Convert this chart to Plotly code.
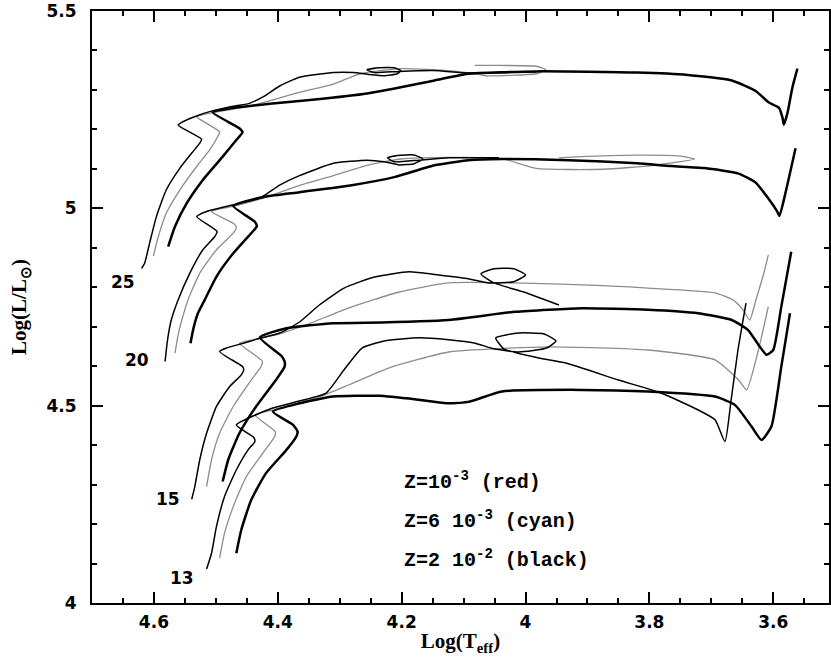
import plotly.graph_objects as go

# ---------------- data (log Teff, log L/Lsun) ----------------
T25_red = [4.620,4.615,4.607,4.596,4.580,4.558,4.539,4.526,4.523,4.561,4.547,4.531,4.510,4.478,4.446,4.421,4.397,4.365,4.310,4.278,4.252,4.228,4.207,4.201,4.212,4.236,4.256,4.244,4.204,4.148,4.093,3.983]
L25_red = [4.848,4.861,4.912,4.979,5.047,5.102,5.140,5.165,5.175,5.211,5.224,5.234,5.245,5.257,5.266,5.285,5.310,5.332,5.344,5.344,5.339,5.336,5.341,5.349,5.356,5.356,5.351,5.344,5.347,5.349,5.343,5.346]
T25_cyan = [4.601,4.593,4.580,4.558,4.531,4.510,4.497,4.494,4.531,4.510,4.446,4.365,4.310,4.267,4.201,4.120,4.082,4.065,3.983,3.967,3.983,4.038,4.082]
L25_cyan = [4.879,4.928,4.988,5.047,5.106,5.148,5.182,5.194,5.232,5.241,5.259,5.294,5.315,5.341,5.354,5.348,5.341,5.336,5.341,5.351,5.360,5.362,5.362]
T25_black = [4.577,4.566,4.547,4.521,4.489,4.467,4.457,4.462,4.505,4.473,4.413,4.344,4.256,4.147,4.093,3.983,3.820,3.738,3.667,3.629,3.607,3.591,3.585,3.583,3.577,3.569,3.561]
L25_black = [4.903,4.954,5.013,5.072,5.131,5.173,5.193,5.203,5.243,5.254,5.265,5.275,5.291,5.324,5.341,5.347,5.344,5.338,5.324,5.298,5.268,5.255,5.229,5.212,5.242,5.307,5.354]

T20_red = [4.582,4.578,4.572,4.561,4.542,4.521,4.502,4.498,4.531,4.515,4.472,4.429,4.397,4.365,4.310,4.256,4.228,4.204,4.180,4.166,4.180,4.207,4.223,4.212,4.172,4.124,4.043]
L20_red = [4.612,4.667,4.717,4.768,4.836,4.895,4.928,4.941,4.979,4.992,5.009,5.026,5.059,5.083,5.114,5.122,5.118,5.110,5.113,5.125,5.135,5.134,5.128,5.118,5.122,5.128,5.128]
T20_cyan = [4.566,4.561,4.555,4.545,4.526,4.499,4.472,4.467,4.470,4.507,4.462,4.413,4.365,4.310,4.256,4.201,4.120,4.038,3.983,3.874,3.793,3.727,3.753,3.820,3.913,3.946]
L20_cyan = [4.633,4.679,4.717,4.768,4.836,4.895,4.937,4.950,4.960,4.992,5.009,5.031,5.058,5.083,5.109,5.125,5.129,5.126,5.101,5.099,5.109,5.125,5.133,5.135,5.131,5.128]
T20_black = [4.541,4.536,4.529,4.518,4.499,4.472,4.443,4.434,4.437,4.472,4.419,4.365,4.283,4.212,4.147,4.092,4.038,3.929,3.820,3.765,3.711,3.656,3.629,3.607,3.594,3.590,3.580,3.564]
L20_black = [4.658,4.697,4.734,4.768,4.827,4.886,4.937,4.954,4.966,5.006,5.030,5.041,5.058,5.079,5.109,5.122,5.125,5.122,5.114,5.107,5.102,5.088,5.066,5.023,4.993,4.981,5.041,5.152]

T15_red = [4.539,4.534,4.526,4.515,4.499,4.478,4.459,4.455,4.457,4.494,4.483,4.456,4.435,4.397,4.365,4.333,4.293,4.244,4.188,4.140,4.091,4.059,4.019,4.000,4.019,4.051,4.072,4.051,4.003,3.946]
L15_red = [4.263,4.295,4.363,4.430,4.498,4.548,4.578,4.591,4.599,4.637,4.646,4.658,4.668,4.684,4.712,4.755,4.798,4.826,4.839,4.831,4.821,4.811,4.814,4.831,4.847,4.847,4.834,4.811,4.788,4.755]
T15_cyan = [4.515,4.507,4.494,4.472,4.443,4.427,4.425,4.462,4.440,4.397,4.354,4.285,4.204,4.124,3.909,3.802,3.694,3.665,3.649,3.638,3.628,3.616,3.608]
L15_cyan = [4.295,4.363,4.430,4.498,4.565,4.599,4.613,4.658,4.667,4.682,4.705,4.748,4.788,4.811,4.806,4.798,4.786,4.768,4.743,4.717,4.768,4.831,4.882]
T15_black = [4.489,4.480,4.462,4.435,4.403,4.389,4.389,4.394,4.429,4.386,4.311,4.258,4.124,4.016,3.909,3.802,3.721,3.667,3.641,3.622,3.611,3.600,3.587,3.571]
L15_black = [4.308,4.363,4.430,4.498,4.565,4.599,4.612,4.626,4.673,4.696,4.709,4.710,4.717,4.738,4.747,4.743,4.734,4.717,4.692,4.650,4.629,4.641,4.751,4.890]

T13_red = [4.515,4.507,4.499,4.486,4.467,4.448,4.437,4.439,4.467,4.435,4.408,4.365,4.322,4.293,4.264,4.228,4.172,4.124,4.083,4.051,4.011,3.966,3.951,3.971,4.011,4.048,4.035,3.979,3.935,3.850,3.781,3.721,3.694,3.678,3.668,3.657,3.644]
L13_red = [4.086,4.126,4.194,4.270,4.337,4.388,4.409,4.420,4.451,4.477,4.494,4.512,4.532,4.591,4.646,4.664,4.672,4.667,4.659,4.644,4.636,4.646,4.664,4.682,4.684,4.672,4.644,4.621,4.608,4.565,4.532,4.489,4.464,4.409,4.515,4.641,4.760]
T13_cyan = [4.494,4.486,4.472,4.451,4.424,4.405,4.404,4.437,4.408,4.365,4.333,4.285,4.220,4.124,3.962,3.802,3.694,3.656,3.643,3.624,3.608]
L13_cyan = [4.114,4.177,4.244,4.320,4.380,4.422,4.434,4.477,4.489,4.507,4.522,4.553,4.596,4.636,4.649,4.641,4.616,4.565,4.540,4.641,4.751]
T13_black = [4.467,4.459,4.443,4.419,4.386,4.370,4.368,4.375,4.408,4.365,4.311,4.236,4.172,4.124,4.091,4.038,3.909,3.802,3.694,3.662,3.635,3.619,3.603,3.587,3.573]
L13_black = [4.126,4.185,4.261,4.329,4.388,4.422,4.434,4.451,4.485,4.506,4.523,4.525,4.515,4.506,4.510,4.536,4.540,4.536,4.523,4.502,4.447,4.413,4.447,4.599,4.734]

mass_labels = ["25", "20", "15", "13"]
mass_label_T = [4.650, 4.628, 4.577, 4.555]
mass_label_L = [4.814, 4.616, 4.263, 4.064]

z_labels = ["Z=10<sup>-3</sup> (red)", "Z=6 10<sup>-3</sup> (cyan)", "Z=2 10<sup>-2</sup> (black)"]
z_label_T = 4.199
z_label_L = [4.310, 4.210, 4.112]

x_tickvals = [4.6, 4.4, 4.2, 4.0, 3.8, 3.6]
x_ticktext = ["4.6", "4.4", "4.2", "4", "3.8", "3.6"]
y_tickvals = [4.0, 4.5, 5.0, 5.5]
y_ticktext = ["4", "4.5", "5", "5.5"]

# ---------------- figure ----------------
styles = {
    "cyan": dict(color="#8c8c8c", width=1.3, shape="spline", smoothing=0.5),
    "red": dict(color="black", width=1.5, shape="spline", smoothing=0.5),
    "black": dict(color="black", width=2.5, shape="spline", smoothing=0.5),
}
tracks = {
    "cyan": [(T25_cyan, L25_cyan), (T20_cyan, L20_cyan), (T15_cyan, L15_cyan), (T13_cyan, L13_cyan)],
    "red": [(T25_red, L25_red), (T20_red, L20_red), (T15_red, L15_red), (T13_red, L13_red)],
    "black": [(T25_black, L25_black), (T20_black, L20_black), (T15_black, L15_black), (T13_black, L13_black)],
}

fig = go.Figure()
for z in ["cyan", "red", "black"]:
    for T, L in tracks[z]:
        fig.add_trace(go.Scatter(x=T, y=L, mode="lines", line=styles[z],
                                 showlegend=False, hoverinfo="skip"))

for txt, t, l in zip(mass_labels, mass_label_T, mass_label_L):
    fig.add_annotation(x=t, y=l, text=txt, showarrow=False, xanchor="center", yanchor="middle",
                       font=dict(family="DejaVu Sans", size=17, color="black", weight="bold"))

for txt, l in zip(z_labels, z_label_L):
    fig.add_annotation(x=z_label_T, y=l, text=txt, showarrow=False, xanchor="left", yanchor="middle",
                       font=dict(family="Liberation Mono", size=20, color="black", weight="bold"))

axis_common = dict(
    showline=True, linecolor="black", linewidth=2, mirror="ticks",
    ticks="inside", ticklen=11, tickwidth=2, tickcolor="black",
    showgrid=False, zeroline=False,
    tickfont=dict(family="DejaVu Sans", size=17, color="black", weight="bold"),
)

fig.update_xaxes(range=[4.7, 3.51], tickmode="array", tickvals=x_tickvals, ticktext=x_ticktext,
                 minor=dict(dtick=0.05, tick0=3.6, ticks="inside", ticklen=5, tickwidth=2, tickcolor="black"),
                 ticklabelstandoff=3,
                 title=dict(text="<b>Log(T<sub>eff</sub>)</b>", standoff=2,
                            font=dict(family="Liberation Serif", size=21, color="black")),
                 **axis_common)
fig.update_yaxes(range=[4.0, 5.5], tickmode="array", tickvals=y_tickvals, ticktext=y_ticktext,
                 minor=dict(dtick=0.1, tick0=4.0, ticks="inside", ticklen=5, tickwidth=2, tickcolor="black"),
                 ticklabelstandoff=10,
                 title=dict(text="<b>Log(L/L<sub>⊙</sub>)</b>", standoff=14,
                            font=dict(family="Liberation Serif", size=21, color="black")),
                 **axis_common)

fig.update_layout(width=831, height=659, margin=dict(l=92, r=0, t=11, b=56),
                  plot_bgcolor="white", paper_bgcolor="white")

fig.write_html("out.html", config={"displayModeBar": False},
               post_script="document.body.style.margin='0';")
